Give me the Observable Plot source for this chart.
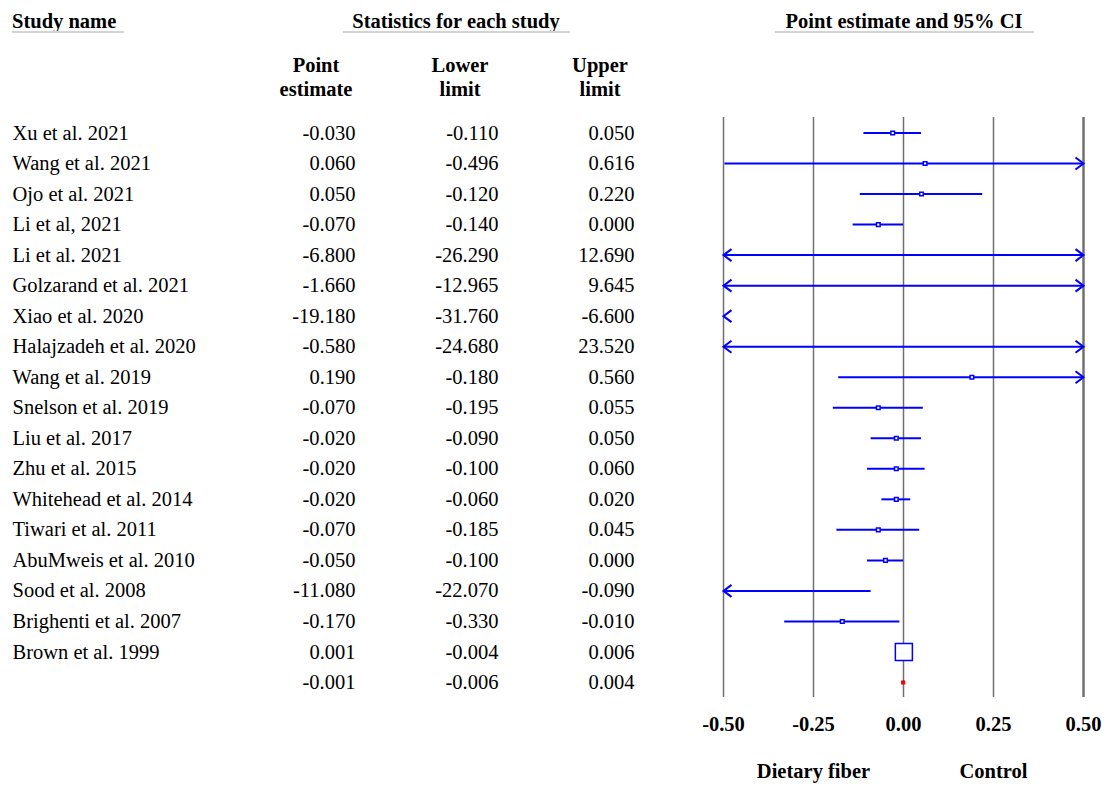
<!DOCTYPE html>
<html>
<head>
<meta charset="utf-8">
<script src="https://cdn.jsdelivr.net/npm/d3@7"></script>
<script src="https://cdn.jsdelivr.net/npm/@observablehq/plot@0.6"></script>
<style>
  body { margin: 0; background: white; }
  #wrap { position: relative; width: 1106px; height: 787px; font-family: "Liberation Serif", "Times New Roman", serif; color: #000; }
  #wrap svg { position: absolute; left: 0; top: 0; }
  .hd { position: absolute; font-weight: bold; font-size: 20.5px; line-height: 24px; white-space: nowrap; }
  .ul { position: absolute; height: 0; border-top: 2px solid #d4d4d4; }
</style>
</head>
<body>
<div id="wrap"></div>
<script>
// ---- data ----
const studyNames = [
  "Xu et al. 2021", "Wang et al. 2021", "Ojo et al. 2021", "Li et al, 2021",
  "Li et al. 2021", "Golzarand et al. 2021", "Xiao et al. 2020", "Halajzadeh et al. 2020",
  "Wang et al. 2019", "Snelson et al. 2019", "Liu et al. 2017", "Zhu et al. 2015",
  "Whitehead et al. 2014", "Tiwari et al. 2011", "AbuMweis et al. 2010", "Sood et al. 2008",
  "Brighenti et al. 2007", "Brown et al. 1999", ""
];
const pointEstimate = [-0.030, 0.060, 0.050, -0.070, -6.800, -1.660, -19.180, -0.580, 0.190, -0.070,
  -0.020, -0.020, -0.020, -0.070, -0.050, -11.080, -0.170, 0.001, -0.001];
const lowerLimit = [-0.110, -0.496, -0.120, -0.140, -26.290, -12.965, -31.760, -24.680, -0.180, -0.195,
  -0.090, -0.100, -0.060, -0.185, -0.100, -22.070, -0.330, -0.004, -0.006];
const upperLimit = [0.050, 0.616, 0.220, 0.000, 12.690, 9.645, -6.600, 23.520, 0.560, 0.055,
  0.050, 0.060, 0.020, 0.045, 0.000, -0.090, -0.010, 0.006, 0.004];
// relative box weights
const boxWeight = [4.5, 4.5, 4.5, 4.5, 4.5, 4.5, 4.5, 4.5, 4.5, 4.5, 4.5, 4.5, 4.5, 4.5, 4.5, 4.5, 4.5, 100, 0];
const xTicks = [-0.5, -0.25, 0, 0.25, 0.5];
const sideLabels = ["Dietary fiber", "Control"];
const sideLabelX = [-0.25, 0.25];

// ---- build ----
const rows = studyNames.map((name, i) => ({
  i, name, est: pointEstimate[i], lo: lowerLimit[i], hi: upperLimit[i], w: boxWeight[i],
  summary: i === studyNames.length - 1
}));
const xmin = xTicks[0], xmax = xTicks[xTicks.length - 1];
const clamp = v => Math.max(xmin, Math.min(xmax, v));
const inRange = v => v >= xmin && v <= xmax;
const studies = rows.filter(d => !d.summary);

const chevronRight = { draw(ctx) { ctx.moveTo(-8, -6); ctx.lineTo(0, 0); ctx.lineTo(-8, 6); } };
const chevronLeft = { draw(ctx) { ctx.moveTo(8, -6); ctx.lineTo(0, 0); ctx.lineTo(8, 6); } };
const blue = "#0000ff";
const fmt = v => v.toFixed(3);
const fs = 20.5;

const chart = Plot.plot({
  width: 1106, height: 787,
  marginLeft: 723, marginRight: 23, marginTop: 117, marginBottom: 90,
  style: { fontFamily: "Liberation Serif, Times New Roman, serif", fontSize: "20px", color: "#000", background: "transparent", overflow: "visible" },
  x: { domain: [xmin, xmax] },
  y: { type: "linear", domain: [0, rows.length - 1], range: [132.5, 682], axis: null },
  r: { type: "sqrt", domain: [0, 100], range: [0, 9.6] },
  marks: [
    Plot.ruleX(xTicks, { stroke: "#707070", strokeWidth: d => d === xmax ? 2.5 : 1.5 }),
    Plot.axisX(xTicks, { tickSize: 0, tickPadding: 19, tickFormat: d => d.toFixed(2), fontSize: fs, fontWeight: "bold", label: null }),
    Plot.ruleY(studies.filter(d => d.hi >= xmin && d.lo <= xmax), {
      y: "i", x1: d => clamp(d.lo), x2: d => clamp(d.hi), stroke: blue, strokeWidth: 2
    }),
    Plot.dot(studies.filter(d => d.lo < xmin), {
      x: () => xmin, y: "i", symbol: chevronLeft, r: 5, fill: "none", stroke: blue, strokeWidth: 2
    }),
    Plot.dot(studies.filter(d => d.hi > xmax), {
      x: () => xmax, y: "i", symbol: chevronRight, r: 5, fill: "none", stroke: blue, strokeWidth: 2
    }),
    Plot.dot(studies.filter(d => inRange(d.est)), {
      x: "est", y: "i", r: "w", symbol: "square", fill: "white", stroke: blue, strokeWidth: 1.5
    }),
    Plot.dot(rows.filter(d => d.summary), {
      x: "est", y: "i", r: 1.8, symbol: "square", fill: "red", stroke: "red", strokeWidth: 1
    }),
    Plot.text(rows, { y: "i", text: "name", frameAnchor: "left", textAnchor: "start", dx: -711, fontSize: fs }),
    Plot.text(rows, { y: "i", text: d => fmt(d.est), frameAnchor: "left", textAnchor: "end", dx: -368, fontSize: fs }),
    Plot.text(rows, { y: "i", text: d => fmt(d.lo), frameAnchor: "left", textAnchor: "end", dx: -225, fontSize: fs }),
    Plot.text(rows, { y: "i", text: d => fmt(d.hi), frameAnchor: "left", textAnchor: "end", dx: -89, fontSize: fs }),
    Plot.text(sideLabels, { x: (d, i) => sideLabelX[i], text: d => d, frameAnchor: "bottom", dy: 80, fontSize: fs, fontWeight: "bold" })
  ]
});

const wrap = document.getElementById("wrap");
wrap.appendChild(chart);

// headers (HTML)
function header(text, left, top, align) {
  const el = document.createElement("div");
  el.className = "hd";
  el.innerHTML = text;
  el.style.top = top + "px";
  if (align === "center") { el.style.left = left + "px"; el.style.transform = "translateX(-50%)"; el.style.textAlign = "center"; }
  else el.style.left = left + "px";
  wrap.appendChild(el);
}
function underline(x1, x2, y) {
  const el = document.createElement("div");
  el.className = "ul";
  el.style.left = x1 + "px"; el.style.width = (x2 - x1) + "px"; el.style.top = y + "px";
  wrap.appendChild(el);
}
header("Study name", 12, 9);
header("Statistics for each study", 456, 9, "center");
header("Point estimate and 95% CI", 904, 9, "center");
underline(12, 124, 31);
underline(343, 570, 31);
underline(775, 1034, 31);
header("Point<br>estimate", 316, 53, "center");
header("Lower<br>limit", 460, 53, "center");
header("Upper<br>limit", 600, 53, "center");
</script>
</body>
</html>
